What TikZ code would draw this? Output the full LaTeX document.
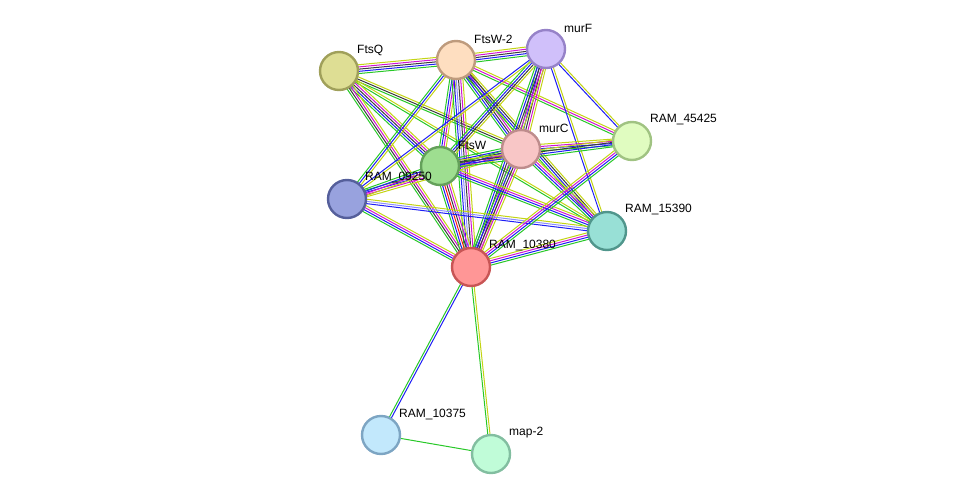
\documentclass[tikz,border=0pt]{standalone}
\usepackage{fontspec}
\setmainfont{Liberation Sans}
\usetikzlibrary{calc}
\pgfdeclarelayer{background}
\pgfsetlayers{background,main}

% evidence colours
\definecolor{evneigh}{RGB}{40,200,40}
\definecolor{evfusion}{RGB}{255,20,20}
\definecolor{evcooc}{RGB}{30,30,245}
\definecolor{evcoexp}{RGB}{60,60,60}
\definecolor{evexp}{RGB}{210,20,210}
\definecolor{evdb}{RGB}{140,140,255}
\definecolor{evtext}{RGB}{195,212,20}

% node colours
\definecolor{fillftsq}{RGB}{222,222,148}   \definecolor{lineftsq}{RGB}{160,160,90}
\definecolor{fillftswb}{RGB}{254,222,192}  \definecolor{lineftswb}{RGB}{190,155,125}
\definecolor{fillmurf}{RGB}{208,192,250}   \definecolor{linemurf}{RGB}{150,130,200}
\definecolor{fillramf}{RGB}{224,252,192}   \definecolor{lineramf}{RGB}{160,195,130}
\definecolor{fillmurc}{RGB}{248,198,198}   \definecolor{linemurc}{RGB}{190,140,140}
\definecolor{fillftsw}{RGB}{158,222,144}   \definecolor{lineftsw}{RGB}{100,160,90}
\definecolor{fillramn}{RGB}{152,162,222}   \definecolor{lineramn}{RGB}{85,95,155}
\definecolor{fillramt}{RGB}{152,224,214}   \definecolor{lineramt}{RGB}{80,150,140}
\definecolor{fillrame}{RGB}{255,150,150}   \definecolor{linerame}{RGB}{200,85,85}
\definecolor{fillrams}{RGB}{194,232,252}   \definecolor{linerams}{RGB}{125,165,195}
\definecolor{fillmap}{RGB}{192,252,216}    \definecolor{linemap}{RGB}{130,190,160}

\tikzset{
  protein/.style={circle, minimum size=38pt, inner sep=0pt, line width=2.4pt},
  protlabel/.style={anchor=west, inner sep=0pt, font=\fontsize{12}{14}\selectfont},
}

% one parallel line per evidence colour between two proteins
\newcommand{\linkbundle}[3]{%
  \foreach \col [count=\n] in {#3} {\xdef\nlines{\n}}%
  \foreach \col [count=\i] in {#3} {%
    \pgfmathsetmacro{\off}{(\i-(\nlines+1)/2)*2.2}%
    \draw[\col, line width=1pt] ($(#1.center)!\off pt!90:(#2.center)$) -- ($(#2.center)!\off pt!-90:(#1.center)$);
  }%
}

\begin{document}
\begin{tikzpicture}[x=1pt, y=-1pt]
  \useasboundingbox (0,0) rectangle (976,500);

  % proteins
  \foreach \name/\x/\y/\txt/\col in {
      ftsq/339/71/FtsQ/ftsq,
      ftswb/456/60/FtsW-2/ftswb,
      murf/546/49/murF/murf,
      ramf/632/141/RAM\_45425/ramf,
      murc/521/149/murC/murc,
      ftsw/440/166/FtsW/ftsw,
      ramn/347/199/RAM\_09250/ramn,
      ramt/607/231/RAM\_15390/ramt,
      rame/471/267/RAM\_10380/rame,
      rams/381/435/RAM\_10375/rams,
      map/491/454/map-2/map} {
    \node[protein, fill=fill\col, draw=line\col] (\name) at (\x,\y) {};
    \node[protlabel] (\name-lbl) at ($(\name)+(18,-21)$) {\txt};
  }

  % interactions
  \begin{pgfonlayer}{background}
    \linkbundle{ftsq}{ftswb}{evneigh,evcooc,evcoexp,evexp,evtext}
    \linkbundle{ftswb}{murf}{evneigh,evcooc,evcoexp,evexp,evtext}
    \linkbundle{ftsq}{murc}{evneigh,evcoexp,evtext}
    \linkbundle{ftsq}{ramt}{evneigh,evtext}
    \linkbundle{ftsq}{ftsw}{evneigh,evcooc,evcoexp,evexp,evtext}
    \linkbundle{ftsq}{rame}{evneigh,evcoexp,evexp,evtext}
    \linkbundle{ftswb}{murc}{evneigh,evcooc,evcoexp,evexp,evtext}
    \linkbundle{ftswb}{ftsw}{evneigh,evcooc,evexp,evtext}
    \linkbundle{ftswb}{rame}{evneigh,evcooc,evdb,evcoexp,evexp,evtext}
    \linkbundle{ftswb}{ramn}{evneigh,evcooc,evtext}
    \linkbundle{ftswb}{ramf}{evneigh,evexp,evtext}
    \linkbundle{ftswb}{ramt}{evneigh,evcooc,evcoexp,evtext}
    \linkbundle{murf}{murc}{evneigh,evcooc,evcoexp,evexp,evtext}
    \linkbundle{murf}{ftsw}{evneigh,evcooc,evcoexp,evtext}
    \linkbundle{murf}{rame}{evneigh,evcooc,evcoexp,evexp,evtext}
    \linkbundle{murf}{ramn}{evcooc,evtext}
    \linkbundle{murf}{ramf}{evcooc,evtext}
    \linkbundle{murf}{ramt}{evcooc,evtext}
    \linkbundle{murc}{ftsw}{evneigh,evcooc,evcoexp,evexp,evtext}
    \linkbundle{murc}{ramf}{evneigh,evcooc,evexp,evtext}
    \linkbundle{murc}{ramn}{evneigh,evcooc,evexp,evtext}
    \linkbundle{murc}{rame}{evneigh,evcooc,evcoexp,evexp,evtext}
    \linkbundle{murc}{ramt}{evneigh,evcooc,evexp,evtext}
    \linkbundle{ftsw}{rame}{evneigh,evcooc,evfusion,evcoexp,evexp,evtext}
    \linkbundle{ftsw}{ramn}{evneigh,evcooc,evexp,evtext}
    \linkbundle{ftsw}{ramf}{evneigh,evcooc,evcoexp,evtext}
    \linkbundle{ftsw}{ramt}{evneigh,evcooc,evexp,evtext}
    \linkbundle{ramn}{rame}{evneigh,evcooc,evexp,evtext}
    \linkbundle{ramn}{ramt}{evcooc,evdb,evtext}
    \linkbundle{rame}{ramt}{evneigh,evcooc,evexp,evtext}
    \linkbundle{rame}{ramf}{evneigh,evcooc,evexp,evtext}
    \linkbundle{rame}{rams}{evneigh,evcooc}
    \linkbundle{rame}{map}{evneigh,evtext}
    \linkbundle{rams}{map}{evneigh}
  \end{pgfonlayer}
\end{tikzpicture}
\end{document}
